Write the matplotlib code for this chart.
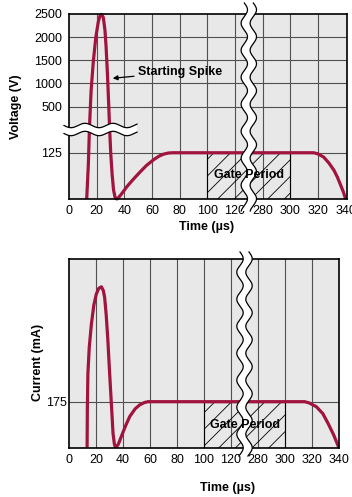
"""Lamp starting voltage / current traces with broken time axis."""
import numpy as np
import matplotlib

matplotlib.use("Agg")
import matplotlib.pyplot as plt
from matplotlib.patches import Polygon, Rectangle

plt.rcParams["font.family"] = ["Liberation Sans", "DejaVu Sans"]
plt.rcParams["hatch.linewidth"] = 0.6

W, H = 352, 497
CURVE = "#a0143e"
BG = "#e8e8e8"
GRID = "#505050"
FS = 9

# time axis is broken between 120 and 280 us: one slot per label
TIME_LABELS = ["0", "20", "40", "60", "80", "100", "120", "280", "300", "320", "340"]
# voltage axis is also broken: slot positions of the labelled levels
VOLT_LABELS = ["125", "500", "1000", "1500", "2000", "2500"]
VOLT_SLOTS = [2, 4, 5, 6, 7, 8]
CUR_LEVEL = 175
GATE_SLOTS = (5, 8)  # 100 us .. 300 us
BREAK_SLOT = 6.5

# voltage trace (x = time slot, y = voltage slot)
volt_x = [0.64, 0.70, 0.74, 0.80, 0.88, 0.97, 1.06, 1.12, 1.18, 1.24, 1.30, 1.34,
          1.39, 1.43, 1.47, 1.51, 1.56, 1.61, 1.67, 1.73, 1.82, 1.95, 2.09, 2.30,
          2.57, 2.80, 3.06, 3.25, 3.42, 3.60, 3.75, 8.85, 9.00, 9.21, 9.40, 9.58,
          9.70, 9.82, 9.92, 10.0]
volt_y = [0.0, 1.5, 3.1, 4.7, 5.96, 7.0, 7.67, 7.92, 7.98, 7.85, 7.3, 6.6,
          5.4, 4.24, 3.0, 1.96, 1.05, 0.39, 0.05, 0.0, 0.1, 0.3, 0.53, 0.82,
          1.17, 1.45, 1.7, 1.85, 1.94, 1.99, 2.0, 2.0, 1.95, 1.81, 1.55, 1.24,
          0.95, 0.6, 0.3, 0.0]

# current trace (x = time slot, y = mA)
cur_x = [0.67, 0.68, 0.70, 0.75, 0.83, 0.92, 1.01, 1.10, 1.20, 1.27, 1.32, 1.38,
         1.44, 1.49, 1.54, 1.59, 1.63, 1.68, 1.73, 1.83, 1.94, 2.10, 2.25, 2.45,
         2.62, 2.80, 2.93, 8.73, 8.90, 9.16, 9.40, 9.59, 9.80, 10.0]
cur_y = [0, 150, 281, 380, 469, 540, 581, 603, 609, 595, 569, 500,
         406, 310, 219, 130, 56, 15, 0, 15, 44, 85, 119, 148,
         163, 172, 175, 175, 170, 156, 130, 94, 50, 0]


def px(x, y):
    """pixel (from top-left) -> figure fraction"""
    return x / W, 1 - y / H


def add_rect(fig, left, top, right, bottom):
    l, t = px(left, top)
    r, b = px(right, bottom)
    return fig.add_axes([l, b, r - l, t - b])


def style(ax, nx, ypad):
    ax.set_facecolor(BG)
    ax.set_xlim(0, nx)
    ax.set_xticks(range(len(TIME_LABELS)))
    ax.set_xticklabels(TIME_LABELS)
    ax.tick_params(length=0, labelsize=FS)
    ax.tick_params(axis="x", pad=4)
    ax.tick_params(axis="y", pad=ypad)
    for s in ax.spines.values():
        s.set_linewidth(1.2)
        s.set_zorder(6)
    for i in range(1, len(TIME_LABELS) - 1):
        ax.axvline(i, color=GRID, lw=0.8, zorder=1)


def gate(fig, ax, top, label_y):
    g0, g1 = GATE_SLOTS
    ax.add_patch(Rectangle((g0, 0), g1 - g0, top, facecolor="none",
                           edgecolor="black", hatch="//", lw=0.8, zorder=2))
    # label sits above the axis break, so put it on the figure
    fx, fy = fig.transFigure.inverted().transform(
        ax.transData.transform(((g0 + g1) / 2, label_y)))
    fig.text(fx, fy, "Gate Period", ha="center", va="center",
             fontsize=FS, fontweight="bold", zorder=12)


def vbreak(fig, ax, y_top, y_bot, phase=0.0):
    # wavy white band that cuts the time axis
    xc = ax.transData.transform((BREAK_SLOT, 0))[0] / fig.dpi * 100
    ys = np.linspace(y_top, y_bot, 200)
    off = 3.2 * np.sin(2 * np.pi * (ys - y_top) / 27.0 + phase)
    left = [px(xc - 4.5 + o, y) for o, y in zip(off, ys)]
    right = [px(xc + 4.5 + o, y) for o, y in zip(off, ys)]
    fig.add_artist(Polygon(left + right[::-1], closed=True, facecolor="white",
                           edgecolor="none", zorder=10))
    for edge in (left, right):
        xs, yv = zip(*edge)
        fig.add_artist(plt.Line2D(xs, yv, color="black", lw=0.9, zorder=11))


def hbreak(fig, x0, x1, yc):
    xs = np.linspace(x0, x1, 150)
    off = 2.2 * np.sin(2 * np.pi * (xs - x0) / 28.0)
    top = [px(x, yc - 4 + o) for x, o in zip(xs, off)]
    bot = [px(x, yc + 4 + o) for x, o in zip(xs, off)]
    fig.add_artist(Polygon(top + bot[::-1], closed=True, facecolor="white",
                           edgecolor="none", zorder=10))
    for edge in (top, bot):
        a, b = zip(*edge)
        fig.add_artist(plt.Line2D(a, b, color="black", lw=0.9, zorder=11))


fig = plt.figure(figsize=(W / 100, H / 100), dpi=100)
fig.patch.set_facecolor("white")

# ---- voltage panel ----
ax1 = add_rect(fig, 69, 14, 347, 199)
style(ax1, 10.05, 5)
ax1.set_ylim(0, 8)
ax1.set_yticks(VOLT_SLOTS)
ax1.set_yticklabels(VOLT_LABELS)
for s in VOLT_SLOTS[:-1]:
    ax1.axhline(s, color=GRID, lw=0.8, zorder=1)
gate(fig, ax1, 2, 1.02)
ax1.plot(volt_x, volt_y, color=CURVE, lw=2.3, zorder=4, clip_on=False,
         solid_capstyle="butt")
ax1.annotate("Starting Spike", xy=(1.58, 5.22), xytext=(2.5, 5.5),
             fontsize=FS, fontweight="bold", va="center", ha="left",
             arrowprops=dict(arrowstyle="-|>", color="black", lw=0.9,
                             mutation_scale=7, shrinkA=1, shrinkB=0), zorder=5)
ax1.set_xlabel("Time (\u00b5s)", fontsize=FS, fontweight="bold")
ax1.xaxis.set_label_coords(0.496, -0.12)
ax1.set_ylabel("Voltage (V)", fontsize=FS, fontweight="bold")
ax1.yaxis.set_label_coords(-0.17, 0.50)

# ---- current panel ----
ax2 = add_rect(fig, 69, 259, 339, 448)
style(ax2, 10, 1.5)
ax2.set_ylim(0, 714)
ax2.set_yticks([CUR_LEVEL])
ax2.set_yticklabels([str(CUR_LEVEL)])
ax2.axhline(CUR_LEVEL, color=GRID, lw=0.8, zorder=1)
gate(fig, ax2, CUR_LEVEL, 87)
ax2.plot(cur_x, cur_y, color=CURVE, lw=2.3, zorder=4, solid_capstyle="butt")
ax2.set_xlabel("Time (\u00b5s)", fontsize=FS, fontweight="bold")
ax2.xaxis.set_label_coords(0.589, -0.18)
ax2.set_ylabel("Current (mA)", fontsize=FS, fontweight="bold")
ax2.yaxis.set_label_coords(-0.093, 0.455)

# breaks
vbreak(fig, ax1, 3, 211)
vbreak(fig, ax2, 252, 456)
hbreak(fig, 64, 137, 129.5)

fig.savefig("out.png", dpi=100, facecolor="white")
